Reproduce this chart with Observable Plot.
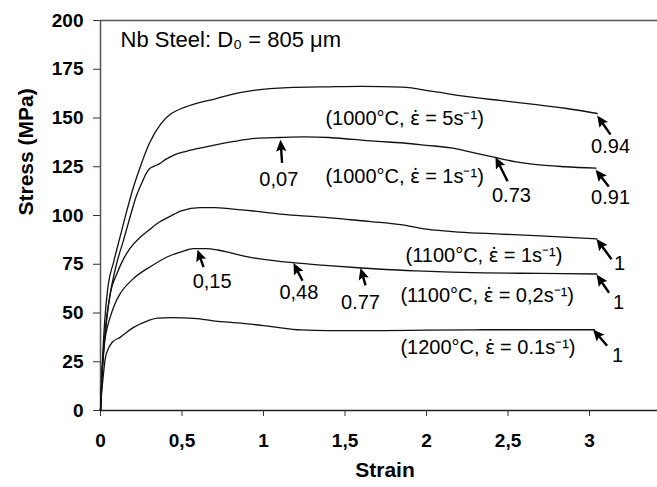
<!DOCTYPE html>
<html>
<head>
<meta charset="utf-8">
<script src="https://cdn.jsdelivr.net/npm/d3@7"></script>
<script src="https://cdn.jsdelivr.net/npm/@observablehq/plot@0.6"></script>
<style>
  body { margin: 0; background: #fff; }
  svg { display: block; }
  tspan.rate { font-family: "Noto Sans", "DejaVu Sans", sans-serif; }
</style>
</head>
<body>
<div id="chart"></div>
<script>
// Flow curves of a Nb steel (initial grain size 805 µm): [strain, stress in MPa]
const curve1000C_5s = [[0,0],[0.01,22],[0.025,45],[0.045,63],[0.08,76],[0.12,89],[0.16,102],[0.2,114],[0.24,124],[0.3,137],[0.37,147],[0.43,152],[0.5,155],[0.6,157.8],[0.7,159.7],[0.8,162],[0.95,164.3],[1.15,165.6],[1.4,166],[1.6,166.2],[1.85,165.8],[2.05,163.5],[2.25,161],[2.45,159],[2.66,157],[2.85,155],[3.047,152.3]];
const curve1000C_1s = [[0,0],[0.012,22],[0.03,42],[0.06,60],[0.098,75],[0.14,87],[0.184,100],[0.22,110],[0.25,116],[0.28,121.5],[0.3,124],[0.33,125.3],[0.36,126.5],[0.4,128.8],[0.45,131],[0.52,132.8],[0.61,134.6],[0.72,136.5],[0.82,138],[0.95,139.5],[1.1,140],[1.25,140.3],[1.4,140],[1.55,139],[1.7,138],[1.84,137.3],[2.0,136],[2.15,134.7],[2.3,132],[2.42,129.8],[2.55,127.5],[2.66,126.2],[2.85,125],[3.04,124.3]];
const curve1100C_1s = [[0,0],[0.01,18],[0.025,35],[0.04,48],[0.06,60],[0.1,70],[0.143,78],[0.18,83],[0.245,89],[0.29,92],[0.35,96],[0.43,99.7],[0.5,102.5],[0.61,104],[0.7,104],[0.8,103.4],[0.94,102.3],[1.12,100.6],[1.29,99.5],[1.45,98.5],[1.6,97.3],[1.75,96.2],[1.84,95.3],[2.0,93],[2.2,91.5],[2.45,90.5],[2.7,89.5],[3.045,88]];
const curve1100C_02s = [[0,0],[0.008,18],[0.02,32],[0.04,42],[0.06,48],[0.09,55],[0.12,59.8],[0.2,67.5],[0.31,74],[0.43,79.5],[0.5,81.5],[0.57,83],[0.65,83],[0.72,82.3],[0.8,80.8],[0.92,78.5],[1.05,77],[1.18,75.8],[1.4,74.3],[1.58,73.2],[1.75,72.3],[1.94,71.6],[2.15,71],[2.35,70.6],[2.7,70.3],[3.045,70]];
const curve1200C_01s = [[0,0],[0.008,10],[0.016,17],[0.03,27],[0.05,32],[0.072,35],[0.12,37.5],[0.2,42.5],[0.29,46],[0.35,47.4],[0.43,47.6],[0.5,47.5],[0.61,47],[0.69,46],[0.8,45.2],[0.92,44.3],[1.05,43],[1.23,41.3],[1.4,41],[1.74,41],[2.0,41.2],[2.35,41.4],[2.7,41.4],[3.03,41.4]];

// Test condition labels: [text, strain, stress]
const conditionLabels = [
  ["(1000\u00B0C, \u03B5\u0307 = 5s\u207B\u00B9)", 1.38, 149.5],
  ["(1000\u00B0C, \u03B5\u0307 = 1s\u207B\u00B9)", 1.38, 119.7],
  ["(1100\u00B0C, \u03B5\u0307 = 1s\u207B\u00B9)", 1.871, 79.3],
  ["(1100\u00B0C, \u03B5\u0307 = 0,2s\u207B\u00B9)", 1.84, 58.8],
  ["(1200\u00B0C, \u03B5\u0307 = 0.1s\u207B\u00B9)", 1.84, 32.2]
];

// Softened fractions marked on the curves:
// [label, tip strain, tip stress, tail strain, tail stress, label strain, label stress]
const fractionNotes = [
  ["0.94", 3.047, 151.3, 3.129, 141.5, 3.129, 135.4],
  ["0.91", 3.037, 123.4, 3.118, 114.9, 3.129, 109.4],
  ["0.73", 2.423, 130.0, 2.497, 117.6, 2.521, 110.3],
  ["0,07", 1.104, 138.8, 1.114, 127.0, 1.094, 118.4],
  ["0,15", 0.595, 82.5, 0.632, 73.5, 0.685, 66.0],
  ["0,48", 1.184, 75.7, 1.239, 66.5, 1.217, 60.3],
  ["0.77", 1.595, 73.1, 1.626, 64.2, 1.595, 55.5],
  ["1", 3.043, 88.0, 3.135, 77.6, 3.184, 75.2],
  ["1", 3.043, 69.7, 3.120, 60.4, 3.178, 55.5],
  ["1", 3.022, 41.6, 3.108, 33.2, 3.172, 28.2]
];

const xTicks = [0, 0.5, 1, 1.5, 2, 2.5, 3];
const yTicks = [0, 25, 50, 75, 100, 125, 150, 175, 200];
const titleText = "Nb Steel: D\u2080 = 805 \u03BCm";

const font = "'Liberation Sans', Arial, Helvetica, sans-serif";
const W = 657, H = 487, mL = 100, mR = 0, mT = 20, mB = 77;
const xMax = 3.417, yMax = 200;
const kx = (W - mL - mR) / xMax;   // px per unit strain
const ky = (H - mT - mB) / yMax;   // px per MPa

const curves = [curve1000C_5s, curve1000C_1s, curve1100C_1s, curve1100C_02s, curve1200C_01s];
const points = curves.flatMap((c, i) => c.map(([strain, stress]) => ({id: i, strain, stress})));

const notes = fractionNotes.map(([label, tx, ty, bx, by, lx, ly]) => {
  const dxp = (tx - bx) * kx, dyp = -(ty - by) * ky;
  const len = Math.hypot(dxp, dyp);
  const back = 7 / len; // shaft stops inside the arrowhead
  return {
    label, tx, ty, bx, by, lx, ly,
    sx: tx - (tx - bx) * back, sy: ty - (ty - by) * back,
    angle: Math.atan2(dxp, -dyp) * 180 / Math.PI
  };
});

// filled arrowhead with its point at the origin, pointing up
const arrowHead = {
  draw(ctx) {
    ctx.moveTo(0, 0);
    ctx.lineTo(5.2, 11.5);
    ctx.lineTo(0, 9.5);
    ctx.lineTo(-5.2, 11.5);
    ctx.closePath();
  }
};

const comma = d => String(d).replace(".", ",");

const chart = Plot.plot({
  width: W, height: H,
  marginLeft: mL, marginRight: mR, marginTop: mT, marginBottom: mB,
  style: {fontFamily: font, background: "#fff", color: "#000"},
  x: {domain: [0, xMax]},
  y: {domain: [0, yMax]},
  marks: [
    Plot.ruleY([yMax], {stroke: "#555", strokeWidth: 1.3}),
    Plot.ruleX([0], {stroke: "#555", strokeWidth: 1.5}),
    Plot.ruleY([0], {stroke: "#222", strokeWidth: 1.5}),
    Plot.axisX({ticks: xTicks, tickFormat: comma, tickSize: 6, tickPadding: 17, fontSize: 19, fontWeight: "bold", label: null, stroke: "#333"}),
    Plot.axisY({ticks: yTicks, tickSize: 7, tickPadding: 10, fontSize: 19, fontWeight: "bold", label: null, stroke: "#333"}),
    Plot.text(["Strain"], {frameAnchor: "bottom", dx: 6, dy: 66, fontSize: 21, fontWeight: "bold"}),
    Plot.text(["Stress (MPa)"], {frameAnchor: "left", rotate: -90, dx: -74, fontSize: 21, fontWeight: "bold"}),
    Plot.line(points, {x: "strain", y: "stress", z: "id", curve: "monotone-x", stroke: "#111", strokeWidth: 1.3}),
    Plot.text([titleText], {x: 0.123, y: 189.8, textAnchor: "start", fontSize: 22}),
    Plot.text(conditionLabels, {x: d => d[1], y: d => d[2], text: d => d[0], textAnchor: "start", fontSize: 20}),
    Plot.link(notes, {x1: "bx", y1: "by", x2: "sx", y2: "sy", stroke: "#000", strokeWidth: 2.4}),
    Plot.dot(notes, {x: "tx", y: "ty", symbol: arrowHead, rotate: "angle", fill: "#000", stroke: "none", r: 4}),
    Plot.text(notes, {x: "lx", y: "ly", text: "label", fontSize: 20})
  ]
});

// strain-rate symbol (epsilon + combining dot) set in a font that stacks the dot
d3.select(chart).selectAll("text").each(function () {
  const t = this.textContent;
  if (this.childElementCount || !t.includes("\u03B5\u0307")) return;
  const [pre, post] = t.split("\u03B5\u0307");
  const el = d3.select(this);
  el.text(null);
  el.append("tspan").text(pre);
  el.append("tspan").attr("class", "rate").text("\u03B5\u0307");
  el.append("tspan").text(post);
});

document.getElementById("chart").appendChild(chart);
</script>
</body>
</html>
